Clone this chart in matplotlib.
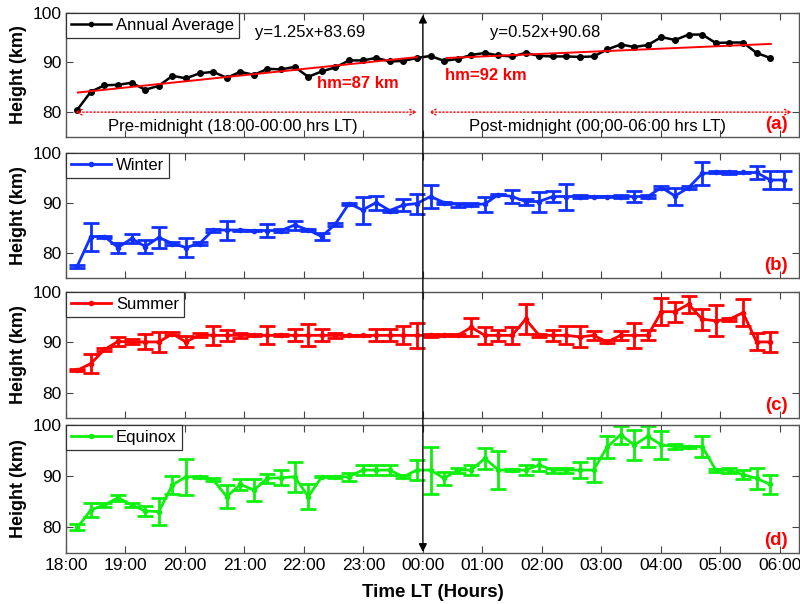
import numpy as np
import matplotlib
matplotlib.use('Agg')
import matplotlib.pyplot as plt
from matplotlib.patches import ConnectionPatch
from matplotlib.lines import Line2D

plt.rcParams['font.family'] = ['Liberation Sans', 'DejaVu Sans']

#%% data
t0 = 18.19      # first sample, hours LT
dt = 0.2284     # sampling step, hours

annual = [80.5, 84.1, 85.4, 85.5, 85.9, 84.5, 85.3, 87.3, 86.8, 87.8,
          88.1, 86.9, 88.1, 87.5, 88.7, 88.6, 89.1, 87.1, 88.2, 89.0,
          90.4, 90.4, 90.9, 90.2, 90.3, 90.9, 91.3, 90.3, 90.7, 91.5,
          91.9, 91.4, 91.2, 91.9, 91.3, 91.2, 91.2, 91.1, 91.2, 92.6,
          93.6, 93.1, 93.5, 95.1, 94.5, 95.6, 95.6, 93.9, 94.0, 94.0,
          91.9, 90.9]

winter = [77.4, 83.3, 83.3, 81.1, 82.9, 81.3, 83.1, 81.9, 81.1, 81.9,
          84.6, 84.6, 84.6, 84.5, 84.5, 84.5, 85.6, 84.6, 83.3, 85.8,
          89.9, 88.6, 90.1, 88.5, 89.6, 89.9, 91.3, 90.1, 89.7, 89.7,
          89.8, 91.7, 91.3, 90.3, 90.3, 91.3, 91.3, 91.3, 91.3, 91.3,
          91.3, 91.3, 91.3, 93.1, 91.4, 93.1, 95.9, 96.1, 96.1, 96.1,
          96.1, 94.6, 94.6]
winter_err = [0.3, 2.8, 0.2, 1.0, 0.9, 1.3, 2.1, 0.3, 1.9, 0.3,
              0.3, 1.9, 0.1, 0.1, 1.3, 0.3, 0.9, 0.2, 0.7, 0.3,
              0.2, 2.7, 1.4, 0.2, 1.2, 2.0, 2.3, 0.2, 0.4, 0.3,
              1.5, 0.1, 1.3, 0.6, 2.0, 1.1, 2.6, 0.3, 0.1, 0.1,
              0.3, 1.1, 0.3, 0.3, 1.7, 0.3, 2.2, 0.2, 0.3, 0.1,
              1.3, 1.7, 1.8]

summer = [84.5, 85.8, 88.6, 90.2, 90.1, 90.1, 90.1, 91.7, 90.1, 91.5,
          91.4, 91.4, 91.4, 91.4, 91.4, 91.4, 91.4, 91.4, 91.4, 91.4,
          91.4, 91.4, 91.4, 91.4, 91.4, 91.4, 91.4, 91.4, 91.4, 93.0,
          91.4, 91.4, 91.4, 94.6, 91.4, 91.4, 91.4, 91.1, 91.4, 90.1,
          91.4, 91.4, 91.4, 96.1, 96.1, 97.6, 94.6, 94.3, 94.6, 95.9,
          90.1, 90.1]
summer_err = [0.2, 1.9, 0.3, 0.9, 0.5, 1.5, 2.0, 0.3, 1.1, 0.4,
              1.9, 1.1, 0.5, 0.2, 1.8, 0.2, 1.2, 2.2, 1.2, 0.5,
              0.1, 0.1, 1.2, 1.2, 1.8, 2.5, 0.3, 0.2, 0.2, 1.8,
              1.7, 1.1, 1.7, 3.0, 0.3, 1.1, 1.8, 2.1, 0.9, 0.3,
              0.9, 2.5, 1.0, 2.7, 2.0, 1.7, 2.1, 3.1, 0.3, 2.7,
              1.7, 1.9]

equinox = [80.0, 83.4, 84.4, 85.8, 84.4, 83.2, 83.1, 88.3, 89.9, 89.9,
           89.3, 86.0, 88.4, 87.3, 89.6, 89.7, 89.9, 86.0, 89.9, 89.9,
           89.9, 91.2, 91.2, 91.2, 89.9, 91.2, 91.2, 89.6, 91.2, 91.2,
           93.5, 91.2, 91.2, 91.2, 92.2, 91.2, 91.2, 91.2, 91.2, 95.7,
           98.1, 96.1, 97.8, 96.1, 95.8, 95.8, 95.8, 91.2, 91.2, 90.3,
           89.6, 88.4]
equinox_err = [0.6, 1.3, 0.4, 0.6, 0.4, 0.9, 2.6, 1.8, 3.5, 0.2,
               0.3, 2.3, 1.1, 2.2, 0.9, 1.5, 2.9, 2.4, 0.1, 0.2,
               0.8, 1.0, 1.0, 1.0, 0.3, 1.9, 4.6, 1.3, 0.5, 0.9,
               2.1, 3.7, 0.2, 0.9, 1.2, 0.5, 0.5, 1.5, 2.4, 2.1,
               1.8, 3.0, 2.1, 2.8, 0.4, 0.2, 2.1, 0.3, 0.5, 0.9,
               2.0, 1.8]

# linear fits written on the figure
pre_slope, pre_icpt = 1.25, 83.69
post_slope, post_icpt = 0.52, 90.68

tick_hours = list(range(18, 31))
tick_labels = ['18:00', '19:00', '20:00', '21:00', '22:00', '23:00', '00:00',
               '01:00', '02:00', '03:00', '04:00', '05:00', '06:00']

#%% figure
fig = plt.figure(figsize=(8, 6.04), dpi=100)
boxes = [[0.0825, 0.7732, 0.916, 0.2058],
         [0.0825, 0.5397, 0.916, 0.2070],
         [0.0825, 0.3079, 0.916, 0.2086],
         [0.0825, 0.0844, 0.916, 0.2119]]
axs = [fig.add_axes(b) for b in boxes]

def tempo(n):
    return t0 + dt * np.arange(n)

def arruma_eixo(ax, letra):
    ax.set_xlim(18, 30.32)
    ax.set_ylim(75, 100)
    ax.set_yticks([80, 90, 100])
    ax.set_xticks(tick_hours)
    ax.tick_params(direction='in', top=True, right=True, length=5,
                   labelsize=12.5, width=0.8, color='#444444')
    for s in ax.spines.values():
        s.set_color('#555555')
        s.set_linewidth(1.0)
    ax.set_ylabel('Height (km)', fontsize=13, fontweight='bold', labelpad=4)
    ax.text(0.985, 0.03, letra, transform=ax.transAxes, color='red',
            fontsize=13.5, fontweight='bold', ha='right', va='bottom')

def legenda(ax, cor, nome, lw):
    h = Line2D([], [], color=cor, lw=lw, marker='o', ms=3)
    leg = ax.legend([h], [nome], loc='upper left', borderaxespad=0,
                    fancybox=False, edgecolor='#333333', framealpha=1,
                    handlelength=2.4, handletextpad=0.3, borderpad=0.3,
                    prop={'size': 12})
    leg.get_frame().set_linewidth(0.9)

# (a) annual average
ax = axs[0]
ta = tempo(len(annual))
ax.plot(ta, annual, '-o', color='black', lw=1.8, ms=4)
tp = np.array([18.2, 23.9])
ax.plot(tp, pre_slope * (tp - 18) + pre_icpt, color='red', lw=1.4)
tq = np.array([24.4, 29.85])
ax.plot(tq, post_slope * (tq - 24) + post_icpt, color='red', lw=1.4)
ax.annotate('', xy=(18.15, 80), xytext=(23.9, 80),
            arrowprops=dict(arrowstyle='<->', color='red', lw=1.0, ls=':',
                            mutation_scale=10, shrinkA=0, shrinkB=0))
ax.annotate('', xy=(24.1, 80), xytext=(30.2, 80),
            arrowprops=dict(arrowstyle='<->', color='red', lw=1.0, ls=':',
                            mutation_scale=10, shrinkA=0, shrinkB=0))
ax.text(22.1, 96, f'y={pre_slope:.2f}x+{pre_icpt:.2f}', fontsize=12,
        ha='center', va='center')
ax.text(26.05, 96, f'y={post_slope:.2f}x+{post_icpt:.2f}', fontsize=12,
        ha='center', va='center')
ax.text(22.9, 85.8, 'hm=87 km', color='red', fontsize=12, fontweight='bold',
        ha='center', va='center')
ax.text(25.05, 87.4, 'hm=92 km', color='red', fontsize=12, fontweight='bold',
        ha='center', va='center')
ax.text(20.8, 77.2, 'Pre-midnight (18:00-00:00 hrs LT)', fontsize=12,
        ha='center', va='center')
ax.text(26.94, 77.2, 'Post-midnight (00;00-06:00 hrs LT)', fontsize=12,
        ha='center', va='center')
legenda(ax, 'black', 'Annual Average', 1.8)
arruma_eixo(ax, '(a)')

# seasons
series = [(axs[1], winter, winter_err, '#1030ff', 'Winter', '(b)'),
          (axs[2], summer, summer_err, '#ff0000', 'Summer', '(c)'),
          (axs[3], equinox, equinox_err, '#10f010', 'Equinox', '(d)')]
for ax, vals, err, cor, nome, letra in series:
    tt = tempo(len(vals))
    ax.errorbar(tt, vals, yerr=err, fmt='-o', color=cor, lw=2.0, ms=3,
                elinewidth=2.0, capsize=5.5, capthick=2.0)
    legenda(ax, cor, nome, 2.0)
    arruma_eixo(ax, letra)

for ax in axs[:3]:
    ax.tick_params(labelbottom=False)
axs[3].set_xticklabels(tick_labels)
axs[3].set_xlabel('Time LT (Hours)', fontsize=13.5, fontweight='bold', labelpad=8)

# midnight divider across all panels
seta = ConnectionPatch(xyA=(24, 99.6), coordsA=axs[0].transData,
                       xyB=(24, 75.2), coordsB=axs[3].transData,
                       arrowstyle='<|-|>', color='black', lw=1.0,
                       mutation_scale=12, shrinkA=0, shrinkB=0)
fig.add_artist(seta)

fig.savefig('out.png', dpi=100)
